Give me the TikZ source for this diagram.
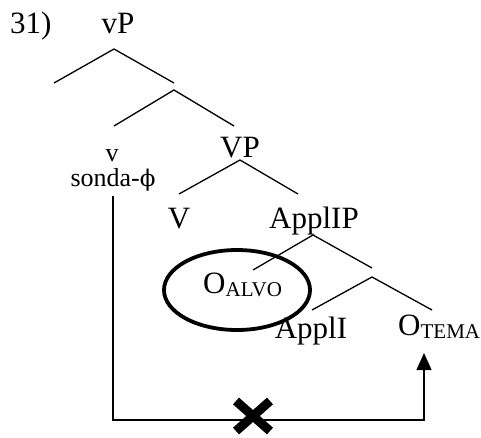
\documentclass[tikz,border=0pt]{standalone}
\usepackage{fontspec}
\setmainfont{Liberation Serif}
\newfontfamily\phifont{DejaVu Serif}
\usepackage{tikz}
\usetikzlibrary{arrows.meta, positioning, calc}

\newcommand{\lbl}[2]{#1\raisebox{-3pt}{\fontsize{21}{23}\selectfont #2}}

\begin{document}
\begin{tikzpicture}[x=1pt, y=-1pt, >={Triangle[length=17pt, width=15pt]}, every node/.style={inner sep=0pt, font=\fontsize{31}{35}\selectfont}, branch/.style={line width=1.3pt}, small/.style={font=\fontsize{26}{30}\selectfont}]
\useasboundingbox (0,0) rectangle (481,437);
\node[anchor=base west] (num) at (10,33) {31)};
\node[anchor=base] (vP) at (118,33) {vP};
\node[anchor=base, small] (v) at (112,161) {v};
\node[anchor=base, small, inner sep=5pt] (sonda) at (113,186) {sonda-{\phifont\fontsize{23}{26}\selectfont ϕ}};
\node[anchor=base] (VP) at (240,157) {VP};
\node[anchor=base] (V) at (179,228) {V};
\node[anchor=base] (ApplIP) at (314,228) {ApplIP};
\node[anchor=base west] (Oalvo) at (203,293) {\lbl{O}{ALVO}};
\node[anchor=base] (ApplI) at (311,338) {ApplI};
\node[anchor=base west] (Otema) at (398,335) {\lbl{O}{TEMA}};
% branch points
\coordinate (vP-top) at (114,49);
\coordinate (spec) at (114-60,83);
\coordinate (vbar-end) at (174,83);
\coordinate (vbar-top) at (174,90);
\coordinate (v-end) at (114,126);
\coordinate (VP-end) at (234,126);
\coordinate (VP-top) at (240,160);
\coordinate (V-end) at (179,194);
\coordinate (ApplIP-end) at (298,194);
\coordinate (ApplIP-top) at (313,235);
\coordinate (Oalvo-end) at (253,270);
\coordinate (Applbar-end) at (372,268);
\coordinate (Applbar-top) at (372,277);
\coordinate (ApplI-end) at (312,310);
\coordinate (Otema-end) at (432,310);
\draw[branch] (spec) -- (vP-top) -- (vbar-end);
\draw[branch] (v-end) -- (vbar-top) -- (VP-end);
\draw[branch] (V-end) -- (VP-top) -- (ApplIP-end);
\draw[branch] (Oalvo-end) -- (ApplIP-top) -- (Applbar-end);
\draw[branch] (ApplI-end) -- (Applbar-top) -- (Otema-end);
% circled goal
\coordinate (goal) at (237,290);
\draw[line width=3.8pt] (goal) ellipse [x radius=73, y radius=40];
% agree path
\coordinate (base) at (0,420);
\coordinate (tema-foot) at (424,353);
\draw[->, line width=1.3pt] (sonda.south) -- (sonda.south |- base) -| (tema-foot);
% blocked
\coordinate (block) at (253,416);
\draw[line width=9pt] ($(block)+(-17,-15)$) -- ($(block)+(17,15)$);
\draw[line width=9pt] ($(block)+(-17,15)$) -- ($(block)+(17,-15)$);
\end{tikzpicture}
\end{document}
